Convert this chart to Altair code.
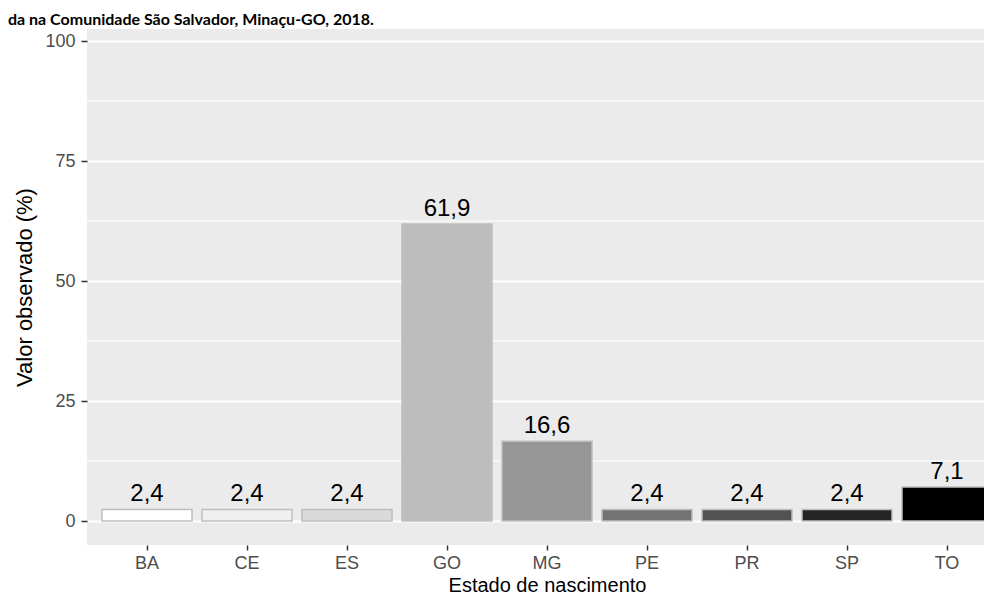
import altair as alt
import pandas as pd

TITLE = "da na Comunidade São Salvador, Minaçu-GO, 2018."
X_TITLE = "Estado de nascimento"
Y_TITLE = "Valor observado (%)"

states = ["BA", "CE", "ES", "GO", "MG", "PE", "PR", "SP", "TO"]
values = [2.4, 2.4, 2.4, 61.9, 16.6, 2.4, 2.4, 2.4, 7.1]
fills = ["#FFFFFF", "#F0F0F0", "#D9D9D9", "#BDBDBD", "#969696",
         "#737373", "#525252", "#252525", "#000000"]
y_ticks = [0, 25, 50, 75, 100]
y_minor = [12.5, 37.5, 62.5, 87.5]

df = pd.DataFrame({
    "estado": states,
    "valor": values,
    "rotulo": [f"{v:.1f}".replace(".", ",") for v in values],
})
minor_df = pd.DataFrame({"m": y_minor})
title_df = pd.DataFrame({"t": [TITLE]})

FONT = "Liberation Sans"

xscale = alt.Scale(domain=states, range=[0, 920], paddingInner=0.1, paddingOuter=0.15)
yscale = alt.Scale(domain=[-5, 102.5], nice=False, zero=False)

x_axis = alt.Axis(title=X_TITLE, bandPosition=0.5, domain=False, labelAngle=0,
                  tickSize=5, labelPadding=4, titlePadding=3, titleFontSize=20)
y_axis = alt.Axis(title=Y_TITLE, values=y_ticks, domain=False, tickSize=6,
                  labelPadding=6, titlePadding=8, titleFontSize=22)

x_enc = alt.X("estado:N", scale=xscale, axis=x_axis)

minor = alt.Chart(minor_df).mark_rule(color="white", strokeWidth=1.2).encode(
    y=alt.Y("m:Q", scale=yscale, axis=y_axis)
)

bars = alt.Chart(df).mark_bar(stroke="#BEBEBE", strokeWidth=1.5, clip=True).encode(
    x=x_enc,
    y=alt.Y("valor:Q", scale=yscale, axis=y_axis),
    y2=alt.datum(0),
    fill=alt.Fill("estado:N", scale=alt.Scale(domain=states, range=fills), legend=None),
)

labels = alt.Chart(df).mark_text(
    dy=-8, baseline="alphabetic", fontSize=24, font=FONT, color="black"
).encode(
    x=x_enc,
    y=alt.Y("valor:Q", scale=yscale, axis=y_axis),
    text="rotulo:N",
)

title = alt.Chart(title_df).mark_text(
    align="left", baseline="alphabetic", fontSize=16, font="Lato",
    fontWeight="bold", color="black"
).encode(
    x=alt.value(-79), y=alt.value(-4), text="t:N"
)

chart = alt.layer(minor, bars, labels, title).properties(
    width=897, height=516,
    autosize=alt.AutoSizeParams(type="none"),
    padding={"left": 79, "top": 21, "right": 0, "bottom": 53},
).configure_view(
    fill="#EBEBEB", stroke=None
).configure_axis(
    gridColor="white", gridWidth=2, tickColor="#333333", tickWidth=1.5,
    labelColor="#4D4D4D", labelFont=FONT, labelFontSize=18,
    titleColor="black", titleFont=FONT, titleFontWeight="normal",
)

chart.save("out.html", embed_options={"renderer": "svg", "actions": False})
